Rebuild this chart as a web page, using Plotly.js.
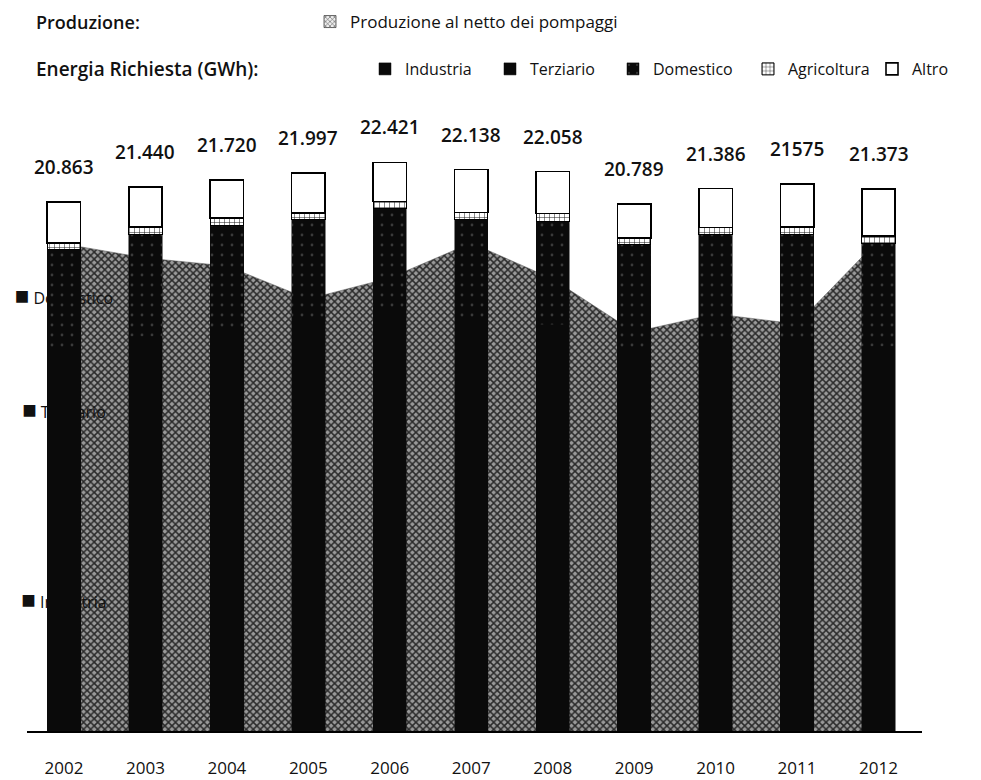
<!DOCTYPE html>
<html>
<head>
<meta charset="utf-8">
<script src="https://cdn.plot.ly/plotly-3.0.1.min.js"></script>
<style>
  html, body { margin: 0; padding: 0; background: #ffffff; }
  #chart { width: 981px; height: 780px; }
</style>
</head>
<body>
<div id="chart"></div>
<script>
// Energia richiesta per settore (GWh) e produzione al netto dei pompaggi, 2002-2012
const years = ['2002', '2003', '2004', '2005', '2006', '2007', '2008', '2009', '2010', '2011', '2012'];
const industria   = [10004, 10236, 10244, 10438, 10633, 10228, 9910, 8774, 9018, 8947, 8542];
const terziario   = [5020, 5300, 5450, 5650, 5850, 5900, 6100, 6250, 6400, 6550, 6600];
const domestico   = [3942, 4057, 4248, 4062, 4110, 4034, 4092, 4144, 4140, 4082, 4088];
const agricoltura = [280, 270, 280, 270, 290, 280, 300, 280, 290, 300, 290];
const altro       = [1617, 1577, 1498, 1577, 1538, 1696, 1656, 1341, 1538, 1696, 1853];
const produzione  = [19204, 18651, 18336, 17035, 17863, 19243, 17823, 15733, 16443, 16049, 19361];
const totalLabels = ['20.863', '21.440', '21.720', '21.997', '22.421', '22.138', '22.058', '20.789', '21.386', '21575', '21.373'];

const idx = years.map((_, i) => i);
const totals = idx.map(i => industria[i] + terziario[i] + domestico[i] + agricoltura[i] + altro[i]);

const FONT = '"Open Sans", "Liberation Sans", sans-serif';
const INK = '#111111';
const BAR = '#0a0a0a';
const XR = [-0.454, 10.534];
const YR = [0, 24880];
const W = 981, H = 780;

const areaPattern = { shape: 'x', bgcolor: '#999999', fgcolor: '#2a2a2a', size: 5, solidity: 0.5 };

// Series labels centred on the first bar (drawn under the bars)
const lab0 = [industria[0] / 2,
              industria[0] + terziario[0] / 2,
              industria[0] + terziario[0] + domestico[0] / 2];
const sq = '<span style="font-size:24px">■</span> ';

const traces = [
  {
    type: 'scatter', x: idx, y: produzione, xaxis: 'x', yaxis: 'y',
    mode: 'lines', fill: 'tozeroy',
    line: { color: '#555555', width: 0.5 },
    fillcolor: '#808080', fillpattern: areaPattern,
    showlegend: false, hoverinfo: 'skip'
  },
  {
    type: 'scatter', x: [0, 0, 0], y: lab0, xaxis: 'x', yaxis: 'y',
    mode: 'text', text: [sq + 'Industria', sq + 'Terziario', sq + 'Domestico'],
    textposition: 'middle center', cliponaxis: false,
    textfont: { family: FONT, size: 16, color: INK },
    showlegend: false, hoverinfo: 'skip'
  },
  // legend key for the production area
  {
    type: 'bar', x: [null], y: [null], xaxis: 'x2', yaxis: 'y2',
    name: 'Produzione al netto dei pompaggi', legend: 'legend',
    marker: { color: '#d0d0d0', pattern: { shape: 'x', bgcolor: '#eeeeee', fgcolor: '#444', size: 4, solidity: 0.3 },
              line: { color: '#444', width: 0.8 } },
    hoverinfo: 'skip'
  },
  {
    type: 'bar', x: idx, y: industria, xaxis: 'x2', yaxis: 'y2', width: 0.41,
    name: 'Industria', legend: 'legend2',
    marker: { color: BAR, line: { color: BAR, width: 0.5 } }, hoverinfo: 'y+name'
  },
  {
    type: 'bar', x: idx, y: terziario, xaxis: 'x2', yaxis: 'y2', width: 0.41,
    name: 'Terziario', legend: 'legend3',
    marker: { color: BAR, line: { color: BAR, width: 0.5 } }, hoverinfo: 'y+name'
  },
  {
    type: 'bar', x: idx, y: domestico, xaxis: 'x2', yaxis: 'y2', width: 0.41,
    name: 'Domestico', legend: 'legend4',
    marker: { color: BAR, pattern: { shape: '.', bgcolor: BAR, fgcolor: '#3a3a3a', size: 10, solidity: 0.06 },
              line: { color: BAR, width: 0.5 } }, hoverinfo: 'y+name'
  },
  {
    type: 'bar', x: idx, y: agricoltura, xaxis: 'x2', yaxis: 'y2', width: 0.41,
    name: 'Agricoltura', legend: 'legend5',
    marker: { color: '#f4f4f4', pattern: { shape: '+', bgcolor: '#ffffff', fgcolor: '#222', size: 5, solidity: 0.2 },
              line: { color: '#000', width: 1 } }, hoverinfo: 'y+name'
  },
  {
    type: 'bar', x: idx, y: altro, xaxis: 'x2', yaxis: 'y2', width: 0.41,
    name: 'Altro', legend: 'legend6',
    marker: { color: '#ffffff', line: { color: '#000', width: 1.6 } }, hoverinfo: 'y+name'
  }
];

// Total demand printed above each bar
const annotations = idx.map(i => ({
  x: i, y: totals[i], xref: 'x', yref: 'y',
  text: totalLabels[i], showarrow: false,
  xanchor: 'center', yanchor: 'bottom', yshift: 20,
  font: { family: FONT, size: 19, color: INK, weight: 600 }
}));

// Plot area in pixels: left 27, width 895, bottom 731, height 631
const PL = 27, PW = 895, PB = 731, PH = 631;
// header positions are given in container pixels
const cx = v => v / W;
const cy = v => 1 - v / H;

annotations.push(
  { xref: 'paper', yref: 'paper', x: (34 - PL) / PW, y: (PB - 22) / PH, xanchor: 'left', yanchor: 'middle',
    text: 'Produzione:', showarrow: false, font: { family: FONT, size: 18, color: INK, weight: 600 } },
  { xref: 'paper', yref: 'paper', x: (34 - PL) / PW, y: (PB - 69) / PH, xanchor: 'left', yanchor: 'middle',
    text: 'Energia Richiesta (GWh):', showarrow: false, font: { family: FONT, size: 19, color: INK, weight: 600 } }
);

const legendBase = (left, mid, size) => ({
  xref: 'container', yref: 'container',
  x: cx(left), y: cy(mid), xanchor: 'left', yanchor: 'middle',
  orientation: 'h', bgcolor: 'rgba(0,0,0,0)', borderwidth: 0, itemwidth: 30,
  font: { family: FONT, size: size || 16, color: INK }
});

const layout = {
  width: W, height: H,
  margin: { l: PL, r: W - PL - PW, t: H - PB - PH, b: H - PB },
  paper_bgcolor: '#ffffff', plot_bgcolor: 'rgba(0,0,0,0)',
  barmode: 'stack',
  showlegend: true,
  xaxis: {
    range: XR, tickvals: idx, ticktext: years, ticks: '',
    showline: true, linecolor: '#000', linewidth: 1.5,
    showgrid: false, zeroline: false, ticklabelstandoff: 21,
    tickfont: { family: FONT, size: 17, color: INK }, fixedrange: true
  },
  yaxis: { range: YR, visible: false, fixedrange: true },
  xaxis2: { range: XR, overlaying: 'x', visible: false, fixedrange: true },
  yaxis2: { range: YR, overlaying: 'y', visible: false, fixedrange: true },
  legend:  legendBase(310, 22, 17),
  legend2: legendBase(365, 69),
  legend3: legendBase(490, 69),
  legend4: legendBase(613, 69),
  legend5: legendBase(748, 69),
  legend6: legendBase(872, 69),
  annotations: annotations
};

Plotly.newPlot('chart', traces, layout, { displayModeBar: false, staticPlot: true });
</script>
</body>
</html>
